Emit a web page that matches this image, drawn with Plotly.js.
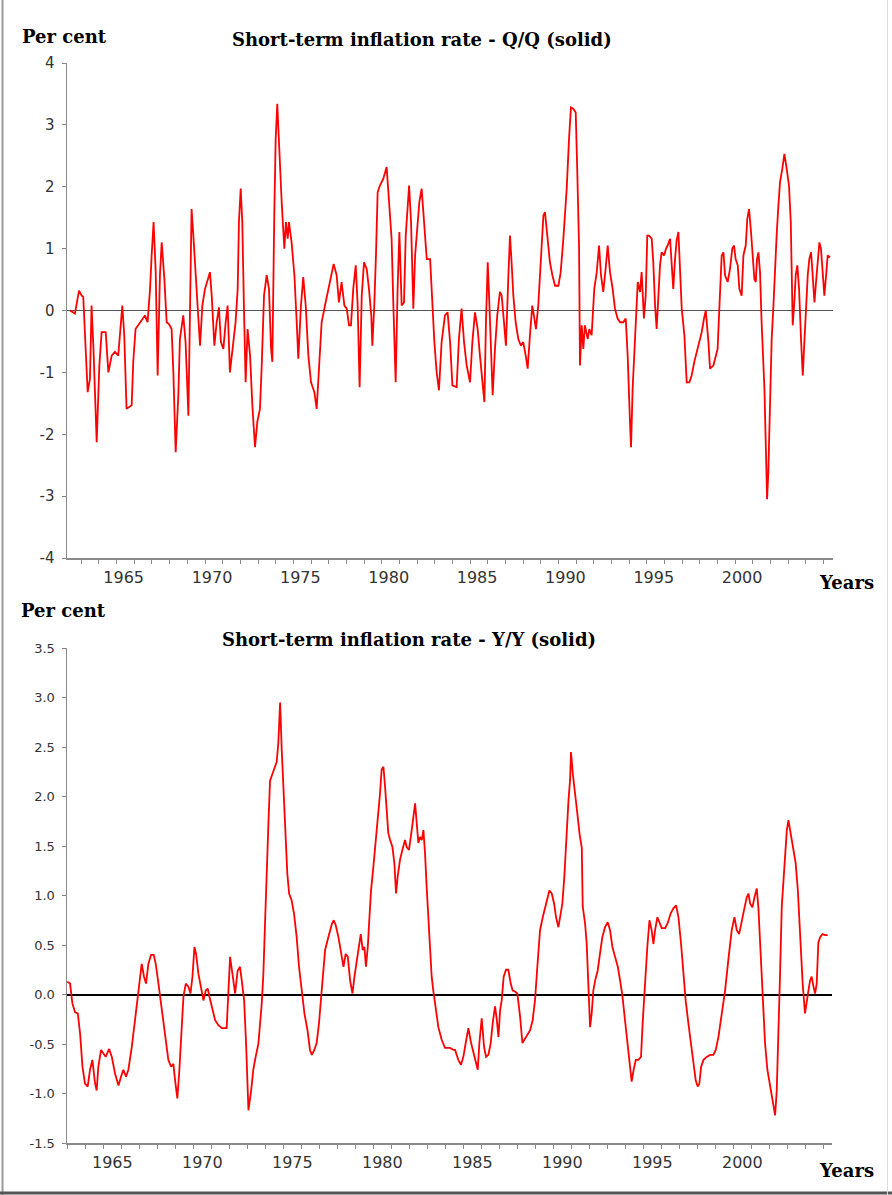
<!DOCTYPE html>
<html>
<head>
<meta charset="utf-8">
<script src="https://cdn.plot.ly/plotly-3.0.1.min.js"></script>
<style>
  html, body { margin: 0; padding: 0; background: #ffffff; }
  #chart { width: 892px; height: 1195px; }
</style>
</head>
<body>
<div id="chart"></div>
<script>
// ---------- Data ----------
// Short-term inflation rate, Q/Q (per cent)
const qqDates = [
1962.36,1962.64,1962.87,1963.02,1963.11,1963.24,1963.36,1963.49,1963.58,1963.68,
1963.87,1964.02,1964.15,1964.38,1964.53,1964.72,1964.90,1965.09,1965.19,1965.32,
1965.43,1965.56,1965.85,1965.94,1966.07,1966.32,1966.60,1966.75,1966.89,1966.98,
1967.09,1967.21,1967.32,1967.45,1967.55,1967.70,1967.83,1967.96,1968.11,1968.21,
1968.34,1968.49,1968.58,1968.77,1968.90,1969.06,1969.15,1969.24,1969.34,1969.43,
1969.58,1969.72,1969.85,1970.00,1970.19,1970.28,1970.38,1970.53,1970.66,1970.79,
1970.90,1971.04,1971.17,1971.28,1971.41,1971.60,1971.73,1971.85,1971.92,1972.02,
1972.11,1972.21,1972.30,1972.41,1972.55,1972.68,1972.83,1972.96,1973.11,1973.21,
1973.34,1973.49,1973.62,1973.74,1973.81,1973.92,1974.00,1974.09,1974.21,1974.34,
1974.49,1974.58,1974.68,1974.75,1974.90,1975.06,1975.19,1975.28,1975.43,1975.56,
1975.70,1975.85,1976.00,1976.19,1976.32,1976.45,1976.60,1976.79,1976.98,1977.17,
1977.28,1977.45,1977.58,1977.73,1977.89,1978.02,1978.15,1978.26,1978.39,1978.53,
1978.64,1978.75,1978.87,1979.00,1979.15,1979.28,1979.41,1979.47,1979.58,1979.68,
1979.77,1979.90,1980.09,1980.28,1980.41,1980.56,1980.66,1980.79,1980.90,1981.00,
1981.13,1981.26,1981.36,1981.47,1981.55,1981.66,1981.79,1981.89,1982.02,1982.13,
1982.26,1982.41,1982.55,1982.74,1982.83,1982.98,1983.11,1983.24,1983.39,1983.58,
1983.73,1983.87,1984.00,
1984.24,1984.37,1984.52,1984.66,1984.81,1985.00,1985.13,1985.28,1985.43,1985.56,
1985.71,1985.81,1985.90,1986.00,1986.09,1986.18,1986.28,1986.41,1986.54,1986.69,
1986.79,1986.92,1987.03,1987.17,1987.26,1987.35,1987.45,1987.58,1987.73,1987.88,
1988.01,1988.15,1988.26,1988.39,1988.52,1988.64,1988.73,1988.86,1988.99,1989.15,
1989.24,1989.37,1989.52,1989.66,1989.81,1990.00,1990.13,1990.28,1990.47,1990.60,
1990.71,1990.84,1990.98,1991.07,1991.17,1991.22,1991.32,1991.41,1991.50,1991.66,
1991.75,1991.88,1992.03,1992.17,1992.30,1992.41,1992.54,1992.67,1992.79,1992.92,
1993.07,1993.20,1993.35,1993.49,1993.67,1993.81,1993.92,1994.05,1994.11,1994.20,
1994.34,1994.49,1994.62,1994.71,1994.84,1994.94,1995.03,1995.13,1995.28,1995.37,
1995.47,1995.56,1995.66,1995.75,1995.84,1995.98,1996.09,1996.18,1996.32,1996.41,
1996.50,1996.60,1996.69,1996.79,1996.88,1996.98,1997.13,1997.26,1997.41,1997.54,
1997.69,1997.83,1997.98,1998.11,1998.24,1998.34,1998.49,1998.58,1998.77,1998.90,
1999.01,1999.09,1999.24,1999.34,1999.43,1999.58,1999.71,1999.84,1999.94,2000.03,
2000.15,2000.24,2000.37,2000.47,2000.60,2000.69,2000.79,2000.90,2000.99,2001.09,
2001.17,2001.24,2001.32,2001.41,2001.50,2001.66,2001.75,2001.81,2001.88,2001.98,
2002.07,2002.17,2002.26,2002.35,2002.45,2002.54,2002.67,2002.79,2002.92,2003.05,
2003.15,2003.20,2003.26,2003.35,2003.43,2003.52,2003.62,2003.73,2003.83,2003.92,
2004.01,2004.11,2004.20,2004.30,2004.39,2004.49,2004.58,2004.67,2004.77,2004.86,
2004.96,2005.05,2005.15,2005.24,2005.37
];
const qqValues = [
0.00,-0.05,0.32,0.24,0.22,-0.62,-1.32,-1.10,0.08,-0.56,
-2.13,-0.89,-0.35,-0.35,-1.00,-0.73,-0.67,-0.73,-0.40,0.08,
-0.40,-1.59,-1.53,-0.83,-0.30,-0.19,-0.08,-0.19,0.35,0.89,
1.43,0.62,-1.05,0.57,1.10,0.51,-0.19,-0.22,-0.30,-1.00,
-2.29,-1.37,-0.46,-0.08,-0.51,-1.70,-0.19,1.64,1.21,0.73,
0.08,-0.57,0.08,0.35,0.51,0.62,0.24,-0.57,-0.19,0.05,
-0.51,-0.62,-0.19,0.08,-1.00,-0.46,-0.19,0.35,1.43,1.97,
1.43,-0.03,-1.16,-0.30,-0.73,-1.53,-2.21,-1.80,-1.59,-0.89,
0.24,0.57,0.35,-0.62,-0.83,1.53,2.77,3.34,2.45,1.75,
1.00,1.43,1.16,1.43,1.10,0.57,-0.19,-0.78,0.08,0.54,
0.08,-0.73,-1.16,-1.32,-1.59,-0.89,-0.19,0.08,0.35,0.65,
0.75,0.57,0.13,0.46,0.08,0.03,-0.24,-0.24,0.35,0.73,
0.08,-1.24,0.24,0.78,0.67,0.35,-0.08,-0.57,0.08,0.94,
1.91,2.02,2.13,2.32,1.70,1.16,0.08,-1.16,0.35,1.27,
0.08,0.13,1.21,1.75,2.02,1.43,0.03,0.89,1.43,1.75,
1.97,1.43,0.83,0.83,0.24,-0.51,-1.00,-1.29,-0.51,-0.08,
-0.03,-0.51,-1.21,
-1.24,-0.46,0.03,-0.51,-0.89,-1.16,-0.51,-0.03,-0.30,-0.73,
-1.27,-1.48,-0.19,0.78,0.13,-0.62,-1.37,-0.62,-0.08,0.30,
0.24,-0.19,-0.57,0.57,1.21,0.78,0.24,-0.19,-0.46,-0.57,
-0.51,-0.73,-0.94,-0.40,0.08,-0.13,-0.30,0.08,0.78,1.53,
1.59,1.16,0.78,0.57,0.40,0.40,0.62,1.16,1.97,2.77,
3.28,3.26,3.20,2.23,1.00,-0.89,-0.24,-0.62,-0.24,-0.46,
-0.30,-0.40,0.35,0.62,1.05,0.57,0.30,0.67,1.05,0.62,
0.35,0.03,-0.13,-0.19,-0.19,-0.13,-0.73,-1.80,-2.21,-1.27,
-0.40,0.46,0.30,0.62,-0.13,0.24,1.21,1.21,1.16,0.78,
0.08,-0.30,0.24,0.73,0.94,0.89,1.00,1.05,1.16,0.78,
0.35,0.83,1.13,1.27,0.62,0.03,-0.40,-1.16,-1.16,-1.05,
-0.83,-0.67,-0.51,-0.35,-0.13,0.00,-0.51,-0.94,-0.89,-0.73,
-0.62,-0.08,0.89,0.94,0.57,0.46,0.67,1.00,1.05,0.83,
0.73,0.35,0.24,0.89,1.05,1.48,1.64,1.27,0.89,0.51,
0.46,0.83,0.94,0.62,-0.19,-1.27,-2.34,-3.05,-2.61,-1.27,
-0.46,0.08,0.78,1.21,1.70,2.07,2.29,2.53,2.29,2.02,
1.43,0.62,-0.24,0.13,0.57,0.73,0.35,-0.46,-1.05,-0.51,
0.13,0.57,0.83,0.94,0.57,0.13,0.46,0.73,1.10,1.00,
0.57,0.24,0.57,0.89,0.86
];

// Short-term inflation rate, Y/Y (per cent)
const yyDates = [
1963.00,1963.15,1963.28,1963.43,1963.58,1963.71,1963.84,1963.98,1964.13,1964.26,
1964.39,1964.54,1964.63,1964.72,1964.87,1965.00,1965.13,1965.32,1965.47,1965.65,
1965.84,1965.98,1966.11,1966.26,1966.39,1966.58,1966.76,1966.95,1967.13,1967.26,
1967.37,1967.50,1967.65,1967.80,1967.91,1968.06,1968.24,1968.43,1968.61,1968.76,
1968.89,1968.98,1969.11,1969.22,1969.32,1969.45,1969.58,1969.72,1969.84,1969.95,
1970.06,1970.15,1970.28,1970.43,1970.56,1970.69,1970.80,1970.89,1971.02,1971.21,
1971.39,1971.58,1971.85,1971.95,1972.04,1972.17,1972.32,1972.46,1972.59,1972.69,
1972.82,1972.93,1973.06,1973.21,1973.33,1973.46,1973.61,1973.80,1973.89,1973.98,
1974.08,1974.17,1974.26,1974.39,1974.50,1974.63,1974.72,1974.82,1974.91,1975.00,
1975.09,1975.22,1975.32,1975.46,1975.59,1975.74,1975.87,1976.02,1976.17,1976.34,
1976.48,1976.58,1976.72,1976.85,1976.98,1977.13,1977.32,1977.50,1977.69,1977.80,
1977.91,1978.06,1978.21,1978.34,1978.46,1978.58,1978.71,1978.84,1978.95,1979.08,
1979.20,1979.30,1979.41,1979.50,1979.59,1979.69,1979.76,1979.87,1980.00,1980.15,
1980.28,1980.37,1980.46,1980.56,1980.65,1980.74,1980.83,1980.93,1981.06,1981.17,
1981.26,1981.35,1981.48,1981.61,1981.76,1981.85,1981.98,1982.13,1982.22,1982.32,
1982.41,1982.50,1982.59,1982.69,1982.78,1982.87,1982.96,1983.06,1983.15,1983.24,
1983.33,1983.46,1983.61,1983.80,1983.98,1984.26,1984.45,
1984.54,1984.72,1984.87,1985.00,1985.13,1985.28,1985.43,1985.56,1985.69,1985.80,
1985.89,1986.02,1986.15,1986.26,1986.39,1986.52,1986.63,1986.76,1986.85,1986.95,
1987.04,1987.13,1987.24,1987.37,1987.50,1987.63,1987.74,1987.87,1988.00,1988.15,
1988.28,1988.43,1988.58,1988.71,1988.85,1988.98,1989.11,1989.26,1989.41,1989.54,
1989.67,1989.78,1989.91,1990.04,1990.15,1990.28,1990.41,1990.50,1990.61,1990.71,
1990.84,1990.93,1990.98,1991.08,1991.17,1991.26,1991.35,1991.45,1991.54,1991.58,
1991.63,1991.76,1991.85,1991.95,1992.04,1992.13,1992.22,1992.32,1992.46,1992.59,
1992.72,1992.87,1993.02,1993.15,1993.28,1993.43,1993.58,1993.71,1993.84,1993.98,
1994.13,1994.26,1994.35,1994.46,1994.58,1994.72,1994.87,1994.96,1995.09,1995.22,
1995.34,1995.46,1995.56,1995.65,1995.78,1995.89,1996.02,1996.21,1996.35,1996.52,
1996.67,1996.82,1996.95,1997.09,1997.22,1997.35,1997.50,1997.65,1997.78,1997.91,
1998.02,1998.11,1998.21,1998.34,1998.52,1998.71,1998.89,1999.02,1999.17,1999.35,
1999.54,1999.72,1999.91,2000.06,2000.19,2000.32,2000.46,2000.59,2000.74,2000.84,
2000.93,2001.06,2001.17,2001.30,2001.39,2001.48,2001.58,2001.67,2001.76,2001.89,
2002.04,2002.17,2002.32,2002.41,2002.50,2002.59,2002.69,2002.82,2002.97,2003.06,
2003.19,2003.34,2003.46,2003.58,2003.67,2003.76,2003.85,2003.98,2004.08,2004.17,
2004.26,2004.35,2004.45,2004.54,2004.63,2004.72,2004.82,2004.95,2005.09,2005.24
];
const yyValues = [
0.13,0.11,-0.09,-0.18,-0.19,-0.40,-0.73,-0.90,-0.93,-0.76,
-0.66,-0.90,-0.97,-0.73,-0.56,-0.59,-0.63,-0.55,-0.63,-0.80,
-0.92,-0.83,-0.76,-0.83,-0.76,-0.53,-0.26,-0.02,0.31,0.18,
0.11,0.31,0.40,0.40,0.31,0.11,-0.16,-0.40,-0.66,-0.73,
-0.70,-0.86,-1.05,-0.77,-0.40,-0.02,0.11,0.08,0.01,0.18,
0.48,0.41,0.21,0.04,-0.06,0.04,0.06,-0.02,-0.12,-0.26,
-0.31,-0.34,-0.34,-0.02,0.38,0.21,0.01,0.24,0.28,0.14,
-0.06,-0.50,-1.17,-0.97,-0.76,-0.63,-0.50,-0.09,0.21,0.71,
1.39,1.73,2.16,2.23,2.28,2.35,2.54,2.95,2.47,2.13,
1.73,1.22,1.02,0.95,0.82,0.58,0.28,0.01,-0.19,-0.36,
-0.56,-0.61,-0.56,-0.49,-0.29,0.04,0.45,0.58,0.71,0.75,
0.70,0.58,0.42,0.28,0.41,0.38,0.14,0.01,0.18,0.35,
0.51,0.61,0.45,0.48,0.28,0.48,0.71,1.05,1.29,1.56,
1.80,2.03,2.27,2.30,2.10,1.86,1.63,1.56,1.49,1.32,
1.02,1.19,1.36,1.46,1.56,1.49,1.46,1.66,1.80,1.93,
1.73,1.53,1.59,1.56,1.66,1.43,1.09,0.72,0.45,0.18,
0.04,-0.16,-0.33,-0.46,-0.54,-0.54,-0.56,
-0.56,-0.66,-0.71,-0.63,-0.49,-0.34,-0.49,-0.59,-0.70,-0.76,
-0.49,-0.24,-0.53,-0.63,-0.61,-0.49,-0.29,-0.12,-0.24,-0.43,
-0.16,-0.06,0.18,0.25,0.25,0.11,0.04,0.03,0.01,-0.22,
-0.49,-0.44,-0.39,-0.36,-0.26,-0.06,0.28,0.65,0.78,0.88,
0.98,1.05,1.02,0.92,0.78,0.68,0.82,0.92,1.19,1.56,
1.96,2.17,2.45,2.23,2.10,1.93,1.80,1.63,1.52,1.48,
0.89,0.72,0.52,0.08,-0.33,-0.19,0.04,0.14,0.24,0.41,
0.58,0.68,0.73,0.65,0.48,0.38,0.28,0.14,-0.02,-0.26,
-0.49,-0.73,-0.88,-0.76,-0.66,-0.66,-0.63,-0.29,0.11,0.48,
0.75,0.65,0.51,0.65,0.78,0.72,0.67,0.67,0.72,0.82,
0.87,0.90,0.78,0.52,0.18,-0.06,-0.29,-0.49,-0.70,-0.87,
-0.93,-0.90,-0.73,-0.66,-0.63,-0.61,-0.61,-0.56,-0.43,-0.22,
0.04,0.35,0.65,0.78,0.65,0.61,0.72,0.85,0.98,1.02,
0.92,0.88,0.98,1.07,0.88,0.58,0.18,-0.19,-0.49,-0.76,
-0.93,-1.07,-1.22,-0.97,-0.49,0.18,0.89,1.23,1.66,1.76,
1.63,1.46,1.33,1.06,0.72,0.38,0.11,-0.19,-0.09,0.04,
0.14,0.18,0.08,0.01,0.11,0.52,0.58,0.61,0.60,0.60
];

// Tick positions / labels
const yearTicks = [1963,1964,1965,1966,1967,1968,1969,1970,1971,1972,1973,1974,1975,1976,
  1977,1978,1979,1980,1981,1982,1983,1984,1985,1986,1987,1988,1989,1990,1991,1992,1993,
  1994,1995,1996,1997,1998,1999,2000,2001,2002,2003,2004,2005];
const labelledYears = [1965,1970,1975,1980,1985,1990,1995,2000];
const qqYTicks = [-4,-3,-2,-1,0,1,2,3,4];
const qqYTickText = ['-4','-3','-2','-1','0','1','2','3','4'];
const yyYTicks = [-1.5,-1.0,-0.5,0.0,0.5,1.0,1.5,2.0,2.5,3.0,3.5];
const yyYTickText = ['-1.5','-1.0','-0.5','0.0','0.5','1.0','1.5','2.0','2.5','3.0','3.5'];

const titleQQ = 'Short-term inflation rate - Q/Q (solid)';
const titleYY = 'Short-term inflation rate - Y/Y (solid)';
const yLabel = 'Per cent';
const xLabel = 'Years';

// ---------- Drawing ----------
const yearText = yearTicks.map(y => labelledYears.includes(y) ? String(y) : '');
const W = 892, H = 1195;
const px = v => v / W;
const py = v => 1 - v / H;

const axisGrey = '#8a8a8a';
const xTickFont = {family: 'DejaVu Sans, Verdana, sans-serif', size: 16, color: '#333333'};
const yTickFont = {family: 'DejaVu Sans, Verdana, sans-serif', size: 15, color: '#333333'};
const serifBold = {family: 'DejaVu Serif, serif', size: 18, color: '#000000'};

const traces = [
  {x: qqDates, y: qqValues, xaxis: 'x', yaxis: 'y', type: 'scatter', mode: 'lines',
   line: {color: '#ff0000', width: 1.8}, hoverinfo: 'skip', showlegend: false},
  {x: yyDates, y: yyValues, xaxis: 'x2', yaxis: 'y2', type: 'scatter', mode: 'lines',
   line: {color: '#ff0000', width: 1.8}, hoverinfo: 'skip', showlegend: false}
];

const baseX = {
  showline: true, linecolor: axisGrey, linewidth: 1.5,
  ticks: 'outside', ticklen: 4, tickwidth: 1, tickcolor: axisGrey,
  tickmode: 'array', tickvals: yearTicks, ticktext: yearText,
  tickfont: xTickFont, showgrid: false, zeroline: false, fixedrange: true
};

const layout = {
  width: W, height: H,
  margin: {l: 0, r: 0, t: 0, b: 0, pad: 0},
  paper_bgcolor: '#ffffff', plot_bgcolor: '#ffffff',
  showlegend: false,
  xaxis: Object.assign({}, baseX, {
    domain: [px(67), px(833)], range: [1962.19, 2005.54], anchor: 'y',
    ticklabelshift: 7
  }),
  yaxis: {
    domain: [py(558), py(63)], range: [-4, 4], anchor: 'x',
    showline: true, linecolor: axisGrey, linewidth: 1.5,
    ticks: 'outside', ticklen: 4, tickwidth: 1, tickcolor: axisGrey,
    tickmode: 'array', tickvals: qqYTicks, ticktext: qqYTickText,
    ticklabelstandoff: 4,
    tickfont: yTickFont, showgrid: false,
    zeroline: true, zerolinecolor: '#555555', zerolinewidth: 1, fixedrange: true
  },
  xaxis2: Object.assign({}, baseX, {
    domain: [px(67), px(832)], range: [1962.98, 2005.48], anchor: 'y2',
    ticklabelshift: 9
  }),
  yaxis2: {
    domain: [py(1143), py(648)], range: [-1.5, 3.5], anchor: 'x2',
    showline: true, linecolor: axisGrey, linewidth: 1.5,
    ticks: 'outside', ticklen: 4, tickwidth: 1, tickcolor: axisGrey,
    tickmode: 'array', tickvals: yyYTicks, ticktext: yyYTickText,
    ticklabelstandoff: 4,
    tickfont: {family: 'DejaVu Sans, Verdana, sans-serif', size: 13, color: '#333333'},
    showgrid: false,
    zeroline: true, zerolinecolor: '#000000', zerolinewidth: 2, fixedrange: true
  },
  annotations: [
    {text: '<b>' + yLabel + '</b>', xref: 'paper', yref: 'paper', x: px(20), y: py(36),
     xanchor: 'left', yanchor: 'middle', showarrow: false, font: serifBold},
    {text: '<b>' + titleQQ + '</b>', xref: 'paper', yref: 'paper', x: px(422), y: py(40),
     xanchor: 'center', yanchor: 'middle', showarrow: false, font: serifBold},
    {text: '<b>' + xLabel + '</b>', xref: 'paper', yref: 'paper', x: px(817), y: py(582),
     xanchor: 'left', yanchor: 'middle', showarrow: false, font: serifBold},
    {text: '<b>' + yLabel + '</b>', xref: 'paper', yref: 'paper', x: px(19), y: py(610),
     xanchor: 'left', yanchor: 'middle', showarrow: false, font: serifBold},
    {text: '<b>' + titleYY + '</b>', xref: 'paper', yref: 'paper', x: px(409), y: py(639),
     xanchor: 'center', yanchor: 'middle', showarrow: false, font: serifBold},
    {text: '<b>' + xLabel + '</b>', xref: 'paper', yref: 'paper', x: px(817), y: py(1170),
     xanchor: 'left', yanchor: 'middle', showarrow: false, font: serifBold}
  ],
  shapes: [
    {type: 'line', xref: 'paper', yref: 'paper', x0: px(2.5), x1: px(2.5), y0: 0, y1: 1,
     line: {color: '#9a9a9a', width: 2}},
    {type: 'line', xref: 'paper', yref: 'paper', x0: 0, x1: 1, y0: py(1193), y1: py(1193),
     line: {color: '#555555', width: 3}},
    {type: 'line', xref: 'paper', yref: 'paper', x0: px(887.5), x1: px(887.5), y0: 0, y1: 1,
     line: {color: '#dddddd', width: 1}}
  ]
};

Plotly.newPlot('chart', traces, layout, {staticPlot: true, displayModeBar: false});
</script>
</body>
</html>
